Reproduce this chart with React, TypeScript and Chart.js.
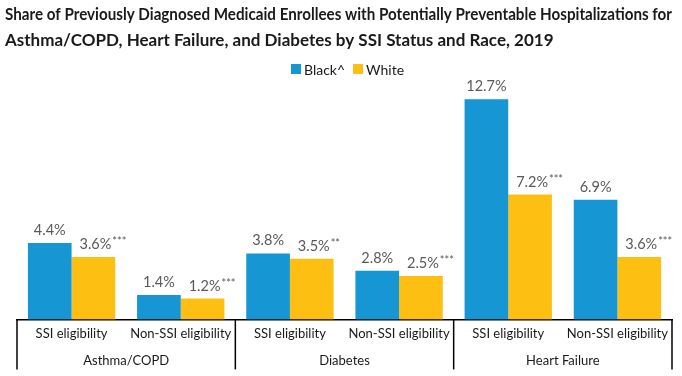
import React, { useEffect, useRef } from 'react';
import { Chart, registerables } from 'chart.js';

Chart.register(...registerables);

const titleLines = [
  'Share of Previously Diagnosed Medicaid Enrollees with Potentially Preventable Hospitalizations for',
  'Asthma/COPD, Heart Failure, and Diabetes by SSI Status and Race, 2019',
];
const subCategories = [
  'SSI eligibility',
  'Non-SSI eligibility',
  'SSI eligibility',
  'Non-SSI eligibility',
  'SSI eligibility',
  'Non-SSI eligibility',
];
const groups = ['Asthma/COPD', 'Diabetes', 'Heart Failure'];
const seriesNames = ['Black^', 'White'];
const blackValues = [4.4, 1.4, 3.8, 2.8, 12.7, 6.9];
const whiteValues = [3.6, 1.2, 3.5, 2.5, 7.2, 3.6];
const blackStars = ['', '', '', '', '', ''];
const whiteStars = ['***', '***', '**', '***', '***', '***'];

const FONT = 'Lato, "Noto Sans", sans-serif';
const BLUE = '#1696d2';
const YELLOW = '#fdbf11';
const LABEL_GRAY = '#595959';
const TEXT = '#1a1a1a';

const valueLabelPlugin = {
  id: 'valueLabels',
  afterDatasetsDraw(chart: any) {
    const ctx = chart.ctx;
    const starSets = [blackStars, whiteStars];
    ctx.save();
    chart.data.datasets.forEach((ds: any, di: number) => {
      const meta = chart.getDatasetMeta(di);
      meta.data.forEach((bar: any, i: number) => {
        const v = ds.data[i];
        const main = v.toFixed(1) + '%';
        const stars = starSets[di][i];
        ctx.font = '14.5px ' + FONT;
        ctx.fillStyle = LABEL_GRAY;
        ctx.textBaseline = 'alphabetic';
        ctx.textAlign = 'left';
        const mw = ctx.measureText(main).width;
        const x0 = bar.x - mw / 2 + (stars ? 2 : 0);
        const y = bar.y - 8;
        ctx.fillText(main, x0, y);
        if (stars) {
          ctx.font = '11px ' + FONT;
          ctx.fillText(stars, x0 + mw + 1, y - 4);
        }
      });
    });
    ctx.restore();
  },
};

const legendPlugin = {
  id: 'customLegend',
  afterDraw(chart: any) {
    const ctx = chart.ctx;
    const area = chart.chartArea;
    ctx.save();
    ctx.font = '14px ' + FONT;
    ctx.textBaseline = 'middle';
    ctx.textAlign = 'left';
    const box = 10;
    const gap = 3;
    const itemGap = 8;
    const items = chart.data.datasets.map((ds: any) => ({
      label: ds.label,
      color: ds.backgroundColor,
      w: box + gap + ctx.measureText(ds.label).width,
    }));
    const total = items.reduce((s: number, it: any) => s + it.w, 0) + itemGap * (items.length - 1);
    let x = (area.left + area.right) / 2 + 3 - total / 2;
    const y = 69;
    items.forEach((it: any) => {
      ctx.fillStyle = it.color;
      ctx.fillRect(x, y - box / 2, box, box);
      ctx.fillStyle = TEXT;
      ctx.fillText(it.label, x + box + gap, y + 1);
      x += it.w + itemGap;
    });
    ctx.restore();
  },
};

const groupAxisPlugin = {
  id: 'groupAxis',
  afterDraw(chart: any) {
    const ctx = chart.ctx;
    const xs = chart.scales.x;
    const area = chart.chartArea;
    const top = area.bottom;
    const bottom = area.bottom + 50;
    const per = subCategories.length / groups.length;
    const bounds: number[] = [area.left];
    for (let g = 1; g < groups.length; g++) {
      const i = g * per;
      bounds.push((xs.getPixelForValue(i - 1) + xs.getPixelForValue(i)) / 2);
    }
    bounds.push(area.right);
    ctx.save();
    ctx.strokeStyle = '#000';
    ctx.lineWidth = 1.5;
    bounds.forEach((bx) => {
      ctx.beginPath();
      ctx.moveTo(bx, top);
      ctx.lineTo(bx, bottom);
      ctx.stroke();
    });
    ctx.font = '13px ' + FONT;
    ctx.fillStyle = TEXT;
    ctx.textAlign = 'center';
    ctx.textBaseline = 'middle';
    groups.forEach((g, gi) => {
      ctx.fillText(g, (bounds[gi] + bounds[gi + 1]) / 2, area.bottom + 41);
    });
    ctx.restore();
  },
};

export default function App() {
  const ref = useRef<HTMLCanvasElement>(null);
  useEffect(() => {
    document.body.style.margin = '0';
    const chart = new Chart(ref.current!, {
      type: 'bar',
      data: {
        labels: subCategories,
        datasets: [
          {
            label: seriesNames[0],
            data: blackValues,
            backgroundColor: BLUE,
            categoryPercentage: 0.8,
            barPercentage: 1.0,
          },
          {
            label: seriesNames[1],
            data: whiteValues,
            backgroundColor: YELLOW,
            categoryPercentage: 0.8,
            barPercentage: 1.0,
          },
        ],
      },
      options: {
        animation: false,
        responsive: false,
        maintainAspectRatio: false,
        layout: { padding: { left: 5, right: 10, top: 0, bottom: 27 } },
        plugins: {
          title: {
            display: true,
            text: titleLines,
            align: 'start',
            color: TEXT,
            font: { family: FONT, size: 17, weight: 'bold', lineHeight: 1.5 },
            padding: { top: 2, bottom: 30 },
          },
          legend: { display: false },
          tooltip: { enabled: false },
        },
        scales: {
          x: {
            grid: { display: false, drawTicks: false },
            border: { display: true, color: '#000', width: 1.5 },
            ticks: { color: TEXT, font: { family: FONT, size: 13 }, padding: 7, maxRotation: 0, autoSkip: false },
          },
          y: {
            min: 0,
            max: 13.63,
            grid: { display: false },
            border: { display: false },
            ticks: { display: false },
            afterFit: (s: any) => {
              s.width = 12;
            },
          },
        },
      },
      plugins: [valueLabelPlugin, groupAxisPlugin, legendPlugin],
    });
    return () => chart.destroy();
  }, []);
  return (
    <div style={{ width: 682, height: 376 }}>
      <canvas ref={ref} width={682} height={376} style={{ width: 682, height: 376, display: 'block' }} />
    </div>
  );
}
